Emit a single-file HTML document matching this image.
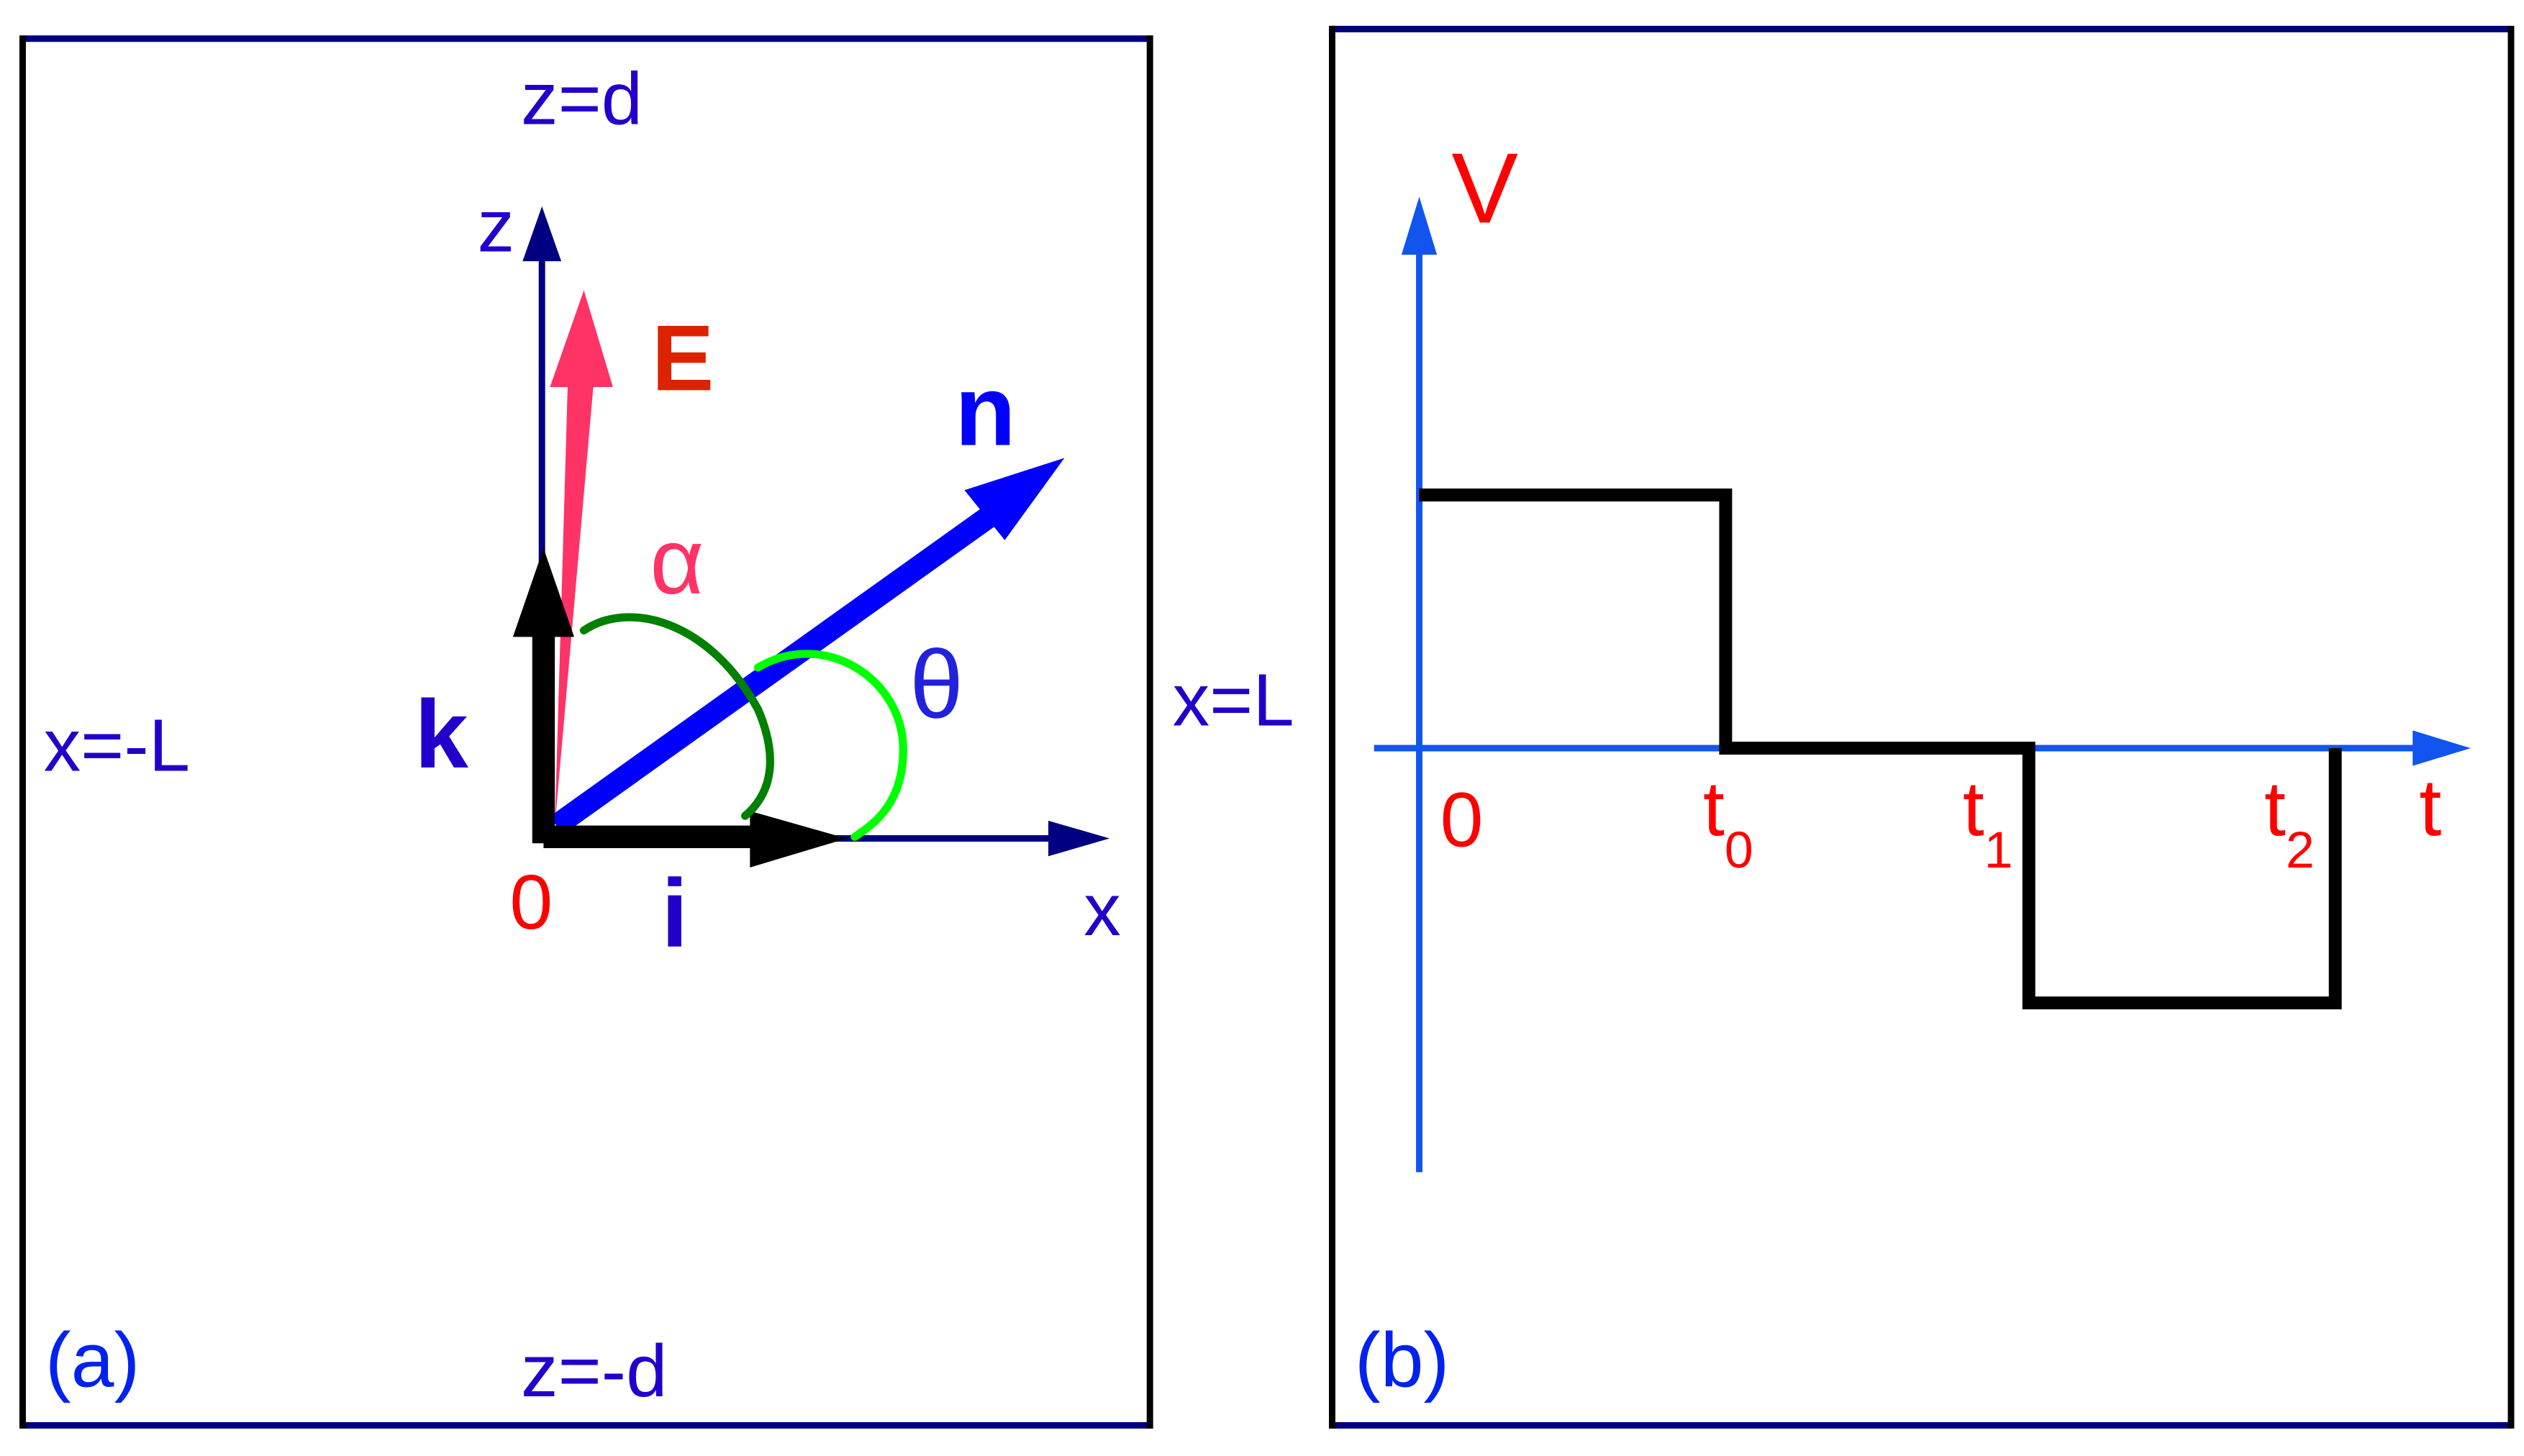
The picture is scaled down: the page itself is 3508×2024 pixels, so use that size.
<!DOCTYPE html>
<html><head><meta charset="utf-8"><style>
html,body{margin:0;padding:0;background:#fff;}
svg{display:block;}
text{font-family:"Liberation Sans",sans-serif;}
</style></head><body>
<svg width="3508" height="2024" viewBox="0 0 1565 903" xmlns="http://www.w3.org/2000/svg">
<rect width="1565" height="903" fill="#fff"/>
<line x1="14" y1="24" x2="713" y2="24" stroke="#000080" stroke-width="4"/>
<line x1="14" y1="884" x2="713" y2="884" stroke="#000080" stroke-width="4"/>
<line x1="14" y1="22" x2="14" y2="886" stroke="#000" stroke-width="4"/>
<line x1="713" y1="22" x2="713" y2="886" stroke="#000" stroke-width="4"/>
<line x1="826" y1="18" x2="1557" y2="18" stroke="#000080" stroke-width="4"/>
<line x1="826" y1="884" x2="1557" y2="884" stroke="#000080" stroke-width="4"/>
<line x1="826" y1="16" x2="826" y2="886" stroke="#000" stroke-width="4"/>
<line x1="1557" y1="16" x2="1557" y2="886" stroke="#000" stroke-width="4"/>

<g fill="#2200cc" font-size="46">
<text x="323" y="77">z=d</text>
<text x="296" y="156">z</text>
<text x="27" y="478">x=-L</text>
<text x="323" y="866">z=-d</text>
<text x="672" y="580">x</text>
<text x="727" y="450">x=L</text>
</g>
<text x="28" y="860" font-size="48" fill="#0022ee">(a)</text>
<text x="840" y="860" font-size="48" fill="#0022ee">(b)</text>

<line x1="336" y1="520" x2="336" y2="150" stroke="#000080" stroke-width="4"/>
<polygon points="336,128 324,162 348,162" fill="#000080"/>
<line x1="340" y1="520" x2="660" y2="520" stroke="#000080" stroke-width="4"/>
<polygon points="688,520 650,509 650,531" fill="#000080"/>

<polygon points="344,512 352,238 368,238" fill="#ff3366"/>
<polygon points="362,180 341,240 380,240" fill="#ff3366"/>
<text x="404" y="242" font-size="58" font-weight="bold" fill="#dd2200">E</text>

<line x1="345" y1="512" x2="625" y2="312" stroke="#0000ff" stroke-width="14"/>
<polygon points="660,284 598,304 623,335" fill="#0000ff"/>
<text x="592" y="276" font-size="62" font-weight="bold" fill="#0000ff">n</text>

<rect x="330" y="390" width="14" height="133" fill="#000"/>
<polygon points="337,340 318,395 356,395" fill="#000"/>
<text x="257" y="476" font-size="60" font-weight="bold" fill="#2200cc">k</text>
<rect x="337" y="512" width="132" height="14" fill="#000"/>
<polygon points="525,520 465,503 465,538" fill="#000"/>
<text x="410" y="587" font-size="60" font-weight="bold" fill="#2200cc">i</text>
<text x="316" y="576" font-size="48" fill="#ff0000">0</text>

<path d="M362,391 C390,372 440,385 470,440 C485,475 475,495 462,506" fill="none" stroke="#008000" stroke-width="5" stroke-linecap="round"/>
<path d="M470,414 C510,390 560,420 560,465 C560,500 540,512 530,519" fill="none" stroke="#00ff00" stroke-width="5" stroke-linecap="round"/>
<text x="403" y="368" font-size="58" fill="#ff3366">α</text>
<text x="564" y="445" font-size="60" fill="#2222dd">θ</text>

<line x1="880" y1="727" x2="880" y2="150" stroke="#1155ee" stroke-width="4"/>
<polygon points="880,122 869,158 891,158" fill="#1155ee"/>
<line x1="852" y1="464" x2="1500" y2="464" stroke="#1155ee" stroke-width="4"/>
<polygon points="1532,464 1496,453 1496,475" fill="#1155ee"/>
<text x="900" y="138" font-size="62" fill="#ff0000">V</text>
<text x="1500" y="518" font-size="50" fill="#ff0000">t</text>

<path d="M880,307 L1070,307 L1070,464 L1258,464 L1258,622 L1448,622 L1448,464" fill="none" stroke="#000" stroke-width="8"/>

<g fill="#ff0000" font-size="48">
<text x="893" y="525">0</text>
<text x="1056" y="518">t<tspan font-size="32" dy="20">0</tspan></text>
<text x="1217" y="518">t<tspan font-size="32" dy="20">1</tspan></text>
<text x="1404" y="518">t<tspan font-size="32" dy="20">2</tspan></text>
</g>
</svg>
</body></html>
